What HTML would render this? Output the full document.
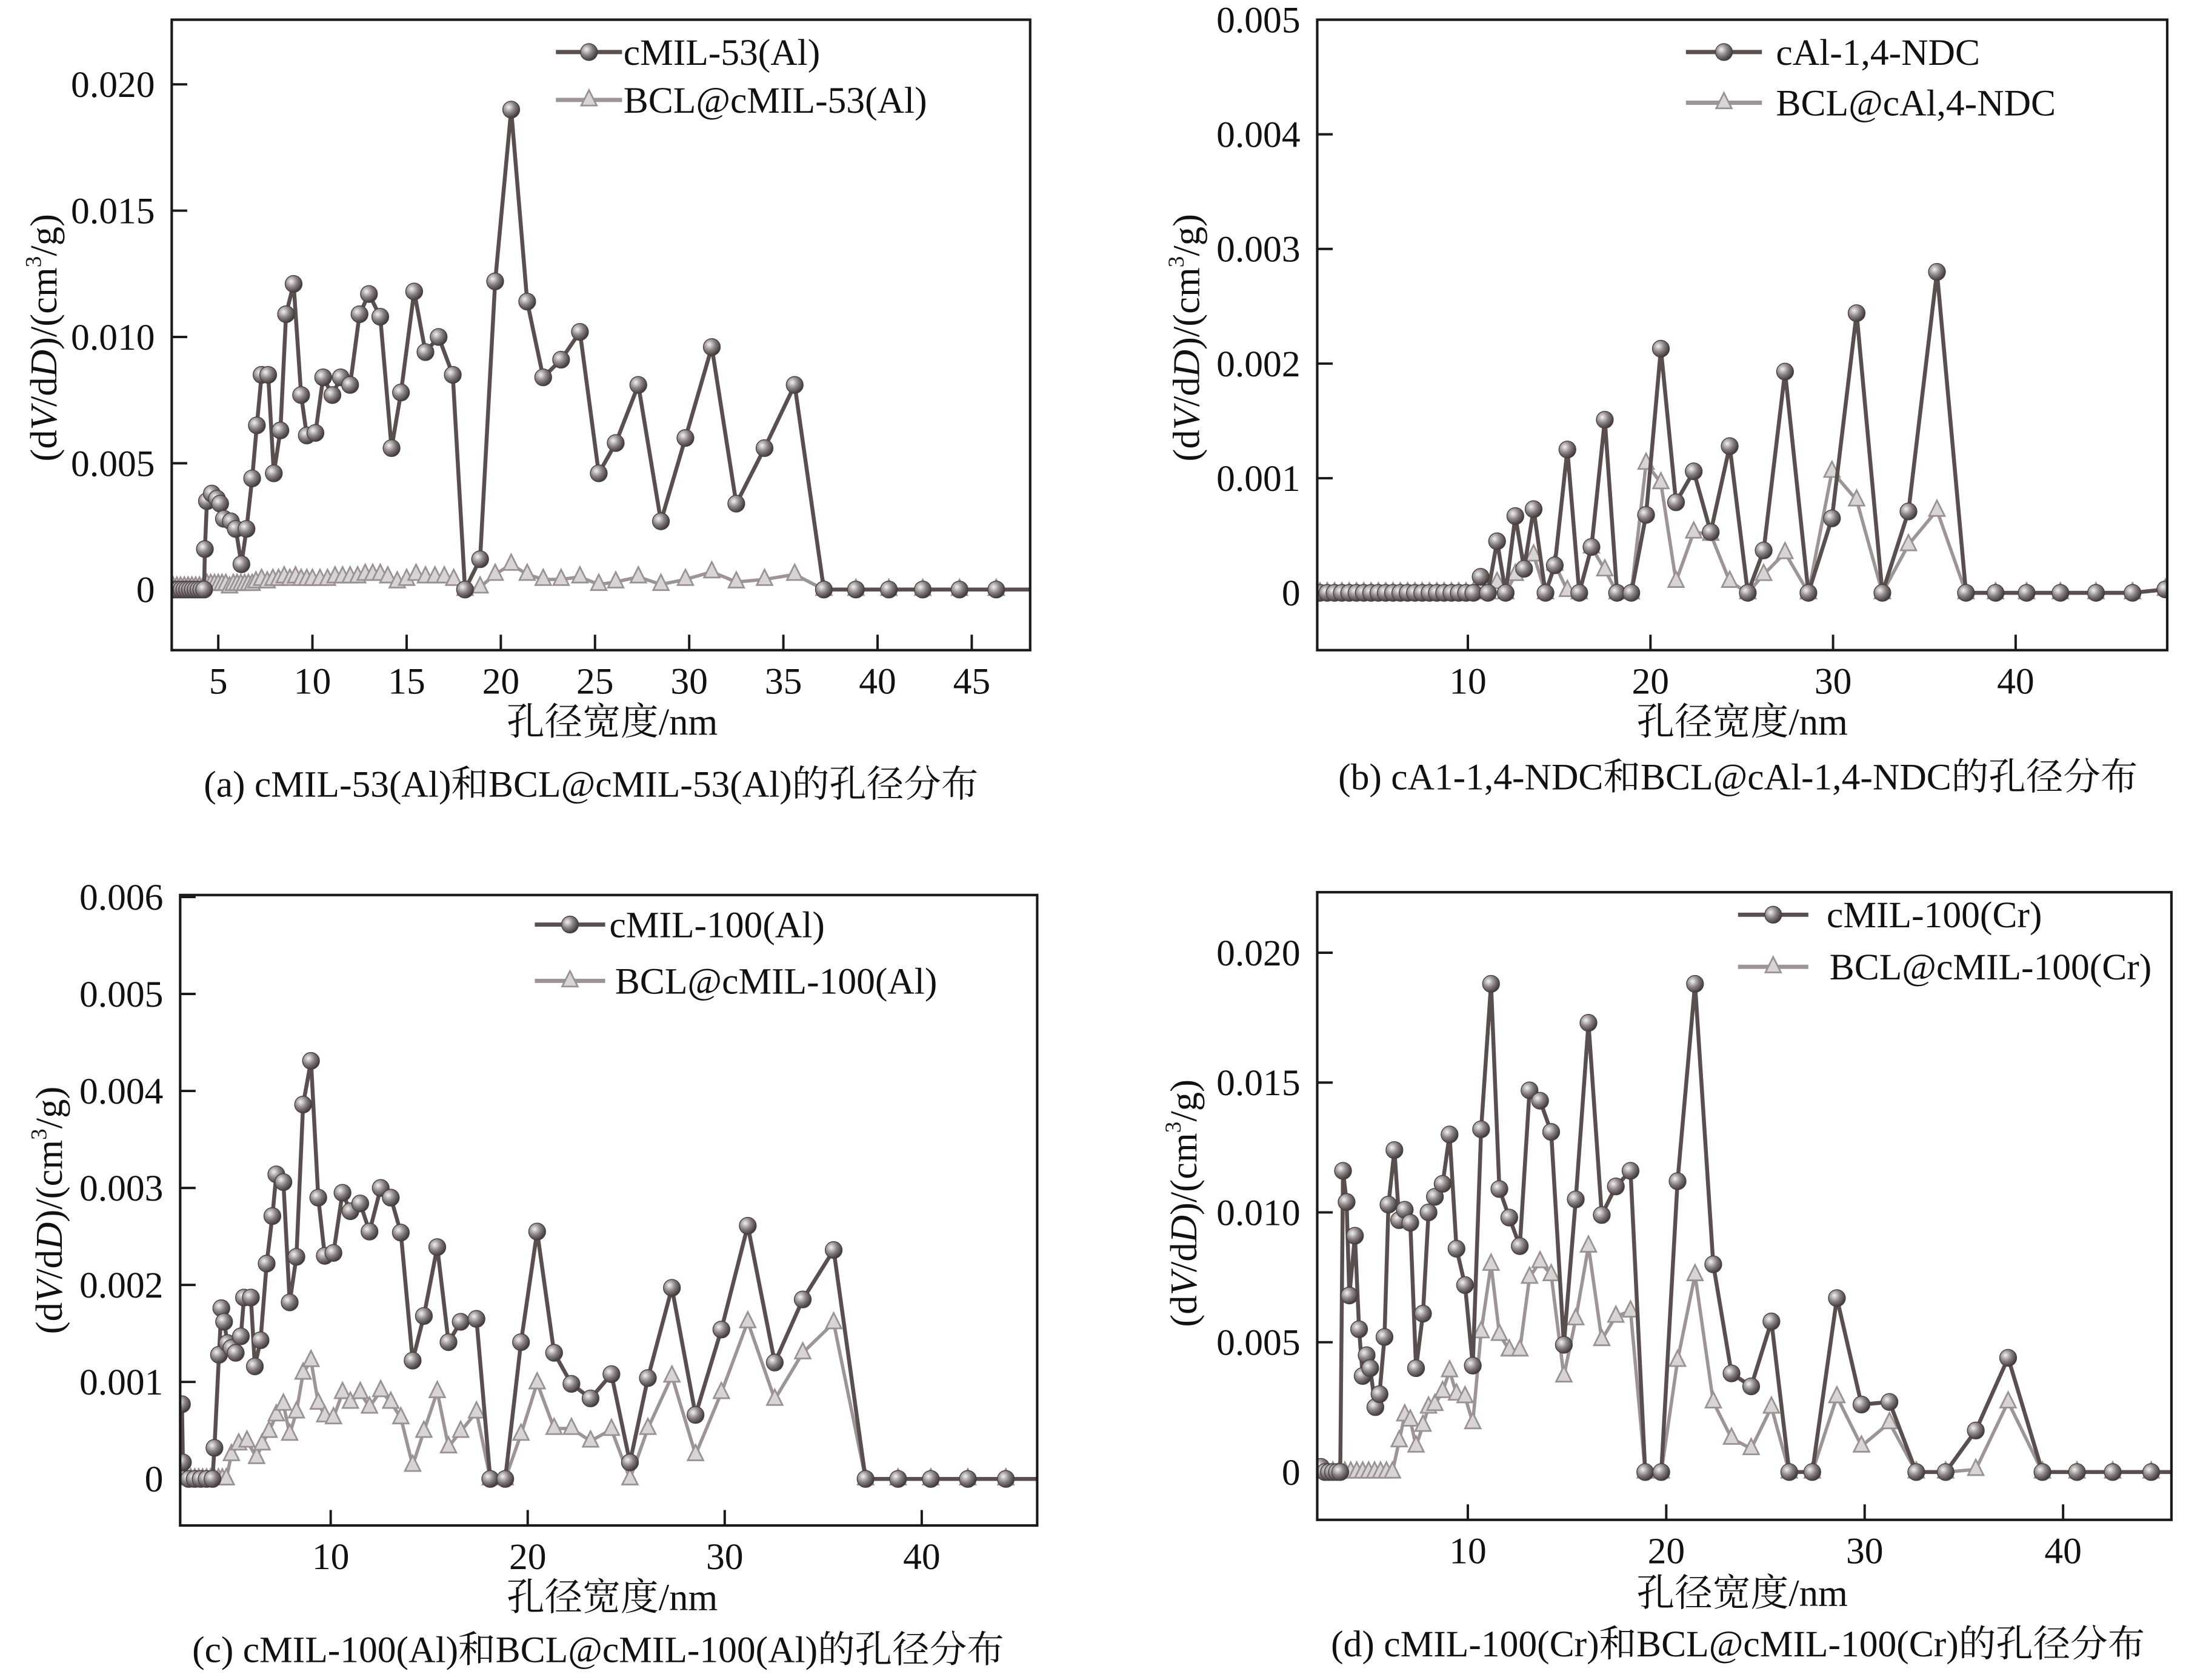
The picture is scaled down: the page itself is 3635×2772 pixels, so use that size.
<!DOCTYPE html>
<html><head><meta charset="utf-8">
<style>
html,body{margin:0;padding:0;background:#fff;}
svg{display:block;}
text{font-family:"Liberation Serif","Noto Serif CJK SC","Noto Sans CJK SC",serif;fill:#111;}
</style></head>
<body>
<svg id="fig" width="3635" height="2772" viewBox="0 0 1565.4 1193.8" xmlns="http://www.w3.org/2000/svg">
<defs>
<radialGradient id="ball" cx="35%" cy="35%" r="70%">
<stop offset="0" stop-color="#f2f2f2"/><stop offset="0.5" stop-color="#8a8282"/><stop offset="1" stop-color="#3a3333"/>
</radialGradient>
</defs>
</svg>
<script>
// ---------- Panel (a) data ----------
const aX1=[2.6,2.75,2.9,3.05,3.2,3.35,3.5,3.65,3.8,3.95,4.1,4.25,4.29,4.4,4.66,4.93,5.1,5.3,5.67,5.93,6.23,6.5,6.8,7.05,7.3,7.65,7.95,8.3,8.6,9.0,9.4,9.7,10.16,10.57,11.06,11.5,12.0,12.5,13.0,13.6,14.2,14.7,15.4,16.0,16.7,17.45,18.1,18.9,19.7,20.55,21.4,22.25,23.2,24.2,25.2,26.1,27.3,28.5,29.8,31.2,32.5,34.0,35.6,37.15,38.85,40.6,42.4,44.35,46.3];
const aY1=[0,0,0,0,0,0,0,0,0,0,0,0,0.0016,0.0035,0.0038,0.0036,0.0034,0.0028,0.0027,0.0024,0.0010,0.0024,0.0044,0.0065,0.0085,0.0085,0.0046,0.0063,0.0109,0.0121,0.0077,0.0061,0.0062,0.0084,0.0077,0.0084,0.0081,0.0109,0.0117,0.0108,0.0056,0.0078,0.0118,0.0094,0.0100,0.0085,0,0.0012,0.0122,0.0190,0.0114,0.0084,0.0091,0.0102,0.0046,0.0058,0.0081,0.0027,0.0060,0.0096,0.0034,0.0056,0.0081,0,0,0,0,0,0];
const aX2=[2.6,2.8,3.0,3.2,3.4,3.6,3.8,4.0,4.2,4.4,4.6,4.8,5.0,5.2,5.4,5.6,5.8,6.0,6.2,6.4,6.6,6.8,7.0,7.3,7.6,7.9,8.2,8.5,8.8,9.1,9.4,9.7,10.0,10.4,10.8,11.2,11.6,12.0,12.4,12.8,13.2,13.6,14.0,14.5,15.0,15.5,16.0,16.5,17.0,17.5,18.1,18.9,19.7,20.55,21.4,22.25,23.2,24.2,25.2,26.1,27.3,28.5,29.8,31.2,32.5,34.0,35.6,37.15,38.85,40.6,42.4,44.35,46.3];
const aY2=[0.0001,0.0001,0.0001,0.0001,0.0001,0.0001,0.0001,0.0001,0.0001,0.0002,0.0002,0.0002,0.0002,0.0002,0.0002,0.0001,0.0002,0.0002,0.0002,0.0002,0.0002,0.0002,0.0003,0.0004,0.0003,0.0004,0.0004,0.0005,0.0004,0.0005,0.0004,0.0004,0.0004,0.0004,0.0004,0.0005,0.0005,0.0005,0.0005,0.0006,0.0006,0.0006,0.0005,0.0003,0.0004,0.0006,0.0005,0.0005,0.0005,0.0004,0,0.0001,0.0006,0.0010,0.0006,0.0004,0.0004,0.0005,0.0002,0.0003,0.0005,0.0002,0.0004,0.0007,0.0003,0.0004,0.0006,0,0,0,0,0,0];
const aYTicks=[0,0.005,0.010,0.015,0.020];
const aYLabels=["0","0.005","0.010","0.015","0.020"];
const aXTicks=[5,10,15,20,25,30,35,40,45];

// ---------- Panel (b) data ----------
const bX1=[1.9,2.3,2.7,3.1,3.5,3.9,4.3,4.7,5.1,5.5,5.9,6.3,6.7,7.1,7.5,7.9,8.3,8.7,9.1,9.5,9.9,10.3,10.7,11.1,11.6,12.07,12.6,13.08,13.6,14.25,14.76,15.45,16.1,16.77,17.5,18.17,18.95,19.76,20.57,21.4,22.37,23.3,24.34,25.33,26.2,27.37,28.65,29.94,31.29,32.7,34.13,35.69,37.28,38.9,40.6,42.45,44.4,46.4,48.2];
const bY1=[0,0,0,0,0,0,0,0,0,0,0,0,0,0,0,0,0,0,0,0,0,0,0.00014,0,0.00045,0,0.00067,0.00021,0.00073,0,0.00024,0.00125,0,0.0004,0.00151,0,0,0.00068,0.00213,0.00079,0.00106,0.00053,0.00128,0,0.00037,0.00193,0,0.00065,0.00244,0,0.00071,0.0028,0,0,0,0,0,0,0.00003];
const bX2=[1.9,2.3,2.7,3.1,3.5,3.9,4.3,4.7,5.1,5.5,5.9,6.3,6.7,7.1,7.5,7.9,8.3,8.7,9.1,9.5,9.9,10.3,10.7,11.1,11.6,12.07,12.6,13.08,13.6,14.25,14.76,15.45,16.1,16.77,17.5,18.17,18.95,19.76,20.57,21.4,22.37,23.3,24.34,25.33,26.2,27.37,28.65,29.94,31.29,32.7,34.13,35.69,37.28,38.9,40.6,42.45,44.4,46.4,48.2];
const bY2=[0,0,0,0,0,0,0,0,0,0,0,0,0,0,0,0,0,0,0,0,0,0,0.00007,0,0.00009,0,0.00016,0.00024,0.00033,0,0.00025,0.00002,0,0.0004,0.0002,0,0,0.00113,0.00096,0.0001,0.00053,0.00051,0.0001,0,0.00016,0.00035,0,0.00106,0.00081,0,0.00042,0.00072,0,0,0,0,0,0,0.00003];
const bYTicks=[0,0.001,0.002,0.003,0.004,0.005];
const bYLabels=["0","0.001","0.002","0.003","0.004","0.005"];
const bXTicks=[10,20,30,40];

// ---------- Panel (c) data ----------
const cX1=[2.45,2.5,2.8,3.1,3.4,3.7,4.0,4.1,4.33,4.45,4.59,4.76,4.96,5.18,5.44,5.6,5.95,6.15,6.44,6.75,7.04,7.24,7.6,7.92,8.26,8.6,9.0,9.37,9.7,10.14,10.6,11.0,11.5,11.97,12.54,13.05,13.56,14.16,14.73,15.41,15.98,16.6,17.4,18.1,18.86,19.66,20.48,21.34,22.22,23.19,24.25,25.19,26.1,27.32,28.52,29.83,31.17,32.54,33.96,35.53,37.15,38.8,40.46,42.34,44.27];
const cY1=[0.00077,0.00017,0,0,0,0,0,0.00032,0.00128,0.00176,0.00162,0.0014,0.00135,0.0013,0.00147,0.00187,0.00187,0.00116,0.00143,0.00222,0.00271,0.00314,0.00306,0.00182,0.00229,0.00386,0.00431,0.0029,0.0023,0.00233,0.00295,0.00276,0.00284,0.00255,0.003,0.0029,0.00254,0.00122,0.00168,0.00239,0.00141,0.00162,0.00165,0,0,0.00141,0.00255,0.0013,0.00098,0.00083,0.00108,0.00017,0.00104,0.00197,0.00066,0.00154,0.00261,0.0012,0.00185,0.00236,0,0,0,0,0];
const cX2=[2.5,2.7,2.9,3.1,3.3,3.5,3.7,3.9,4.1,4.3,4.5,4.7,4.96,5.33,5.75,6.24,6.52,6.87,7.24,7.6,7.92,8.26,8.6,9.0,9.37,9.7,10.14,10.6,11.0,11.5,11.97,12.54,13.05,13.56,14.16,14.73,15.41,15.98,16.6,17.4,18.1,18.86,19.66,20.48,21.34,22.22,23.19,24.25,25.19,26.1,27.32,28.52,29.83,31.17,32.54,33.96,35.53,37.15,38.8,40.46,42.34,44.27];
const cY2=[0,0,0,0,0,0,0,0,0,0,0,0,0.00025,0.00036,0.00039,0.00022,0.00036,0.00049,0.00066,0.00077,0.00046,0.00069,0.00109,0.00122,0.00078,0.00065,0.00063,0.00089,0.00079,0.00089,0.00074,0.00091,0.00079,0.00063,0.00014,0.00049,0.0009,0.00033,0.00049,0.00069,0,0,0.00046,0.00099,0.00052,0.00052,0.00039,0.00051,0,0.00052,0.00106,0.00025,0.00089,0.00162,0.00082,0.0013,0.00161,0,0,0,0,0];
const cYTicks=[0,0.001,0.002,0.003,0.004,0.005,0.006];
const cYLabels=["0","0.001","0.002","0.003","0.004","0.005","0.006"];
const cXTicks=[10,20,30,40];

// ---------- Panel (d) data ----------
const dX1=[2.6,2.8,3.0,3.2,3.4,3.57,3.71,3.89,4.03,4.31,4.52,4.7,4.9,5.08,5.34,5.55,5.8,6.0,6.3,6.54,6.82,7.1,7.39,7.74,8.02,8.34,8.73,9.08,9.43,9.86,10.25,10.67,11.17,11.59,12.09,12.62,13.11,13.64,14.2,14.84,15.44,16.08,16.75,17.46,18.2,18.94,19.75,20.57,21.45,22.37,23.29,24.28,25.3,26.2,27.36,28.6,29.84,31.25,32.6,34.08,35.6,37.23,38.96,40.7,42.5,44.44];
const dY1=[0.0002,0,0,0,0,0,0.0116,0.0104,0.0068,0.0091,0.0055,0.0037,0.0045,0.004,0.0025,0.003,0.0052,0.0103,0.0124,0.0097,0.0101,0.0096,0.004,0.0061,0.01,0.0106,0.0111,0.013,0.0086,0.0072,0.0041,0.0132,0.0188,0.0109,0.0098,0.0087,0.0147,0.0143,0.0131,0.0049,0.0105,0.0173,0.0099,0.011,0.0116,0,0,0.0112,0.0188,0.008,0.0038,0.0033,0.0058,0,0,0.0067,0.0026,0.0027,0,0,0.0016,0.0044,0,0,0,0];
const dX2=[2.6,2.9,3.2,3.5,3.8,4.1,4.4,4.7,5.0,5.3,5.6,5.9,6.2,6.54,6.82,7.1,7.39,7.74,8.02,8.34,8.73,9.08,9.43,9.86,10.25,10.67,11.17,11.59,12.09,12.62,13.11,13.64,14.2,14.84,15.44,16.08,16.75,17.46,18.2,18.94,19.75,20.57,21.45,22.37,23.29,24.28,25.3,26.2,27.36,28.6,29.84,31.25,32.6,34.08,35.6,37.23,38.96,40.7,42.5,44.44];
const dY2=[0,0,0,0,0,0,0,0,0,0,0,0,0,0.0012,0.0022,0.002,0.001,0.0018,0.0025,0.0026,0.0031,0.0039,0.003,0.0029,0.0019,0.0054,0.008,0.0053,0.0047,0.0047,0.0075,0.0081,0.0076,0.0037,0.0059,0.0087,0.0051,0.006,0.0062,0,0,0.0043,0.0076,0.0027,0.0013,0.0009,0.0025,0,0,0.0029,0.001,0.0019,0,0,0.0001,0.0027,0,0,0,0];
const dYTicks=[0,0.005,0.010,0.015,0.020];
const dYLabels=["0","0.005","0.010","0.015","0.020"];
const dXTicks=[10,20,30,40];

const NS="http://www.w3.org/2000/svg";
const svg=document.getElementById('fig');
function mk(tag,attrs,parent){const e=document.createElementNS(NS,tag);for(const k in attrs)e.setAttribute(k,attrs[k]);(parent||svg).appendChild(e);return e;}

function panel(cfg){
  const g=mk('g',{});
  
  
  const sx=v=>cfg.L+(v-cfg.xmin)/(cfg.xmax-cfg.xmin)*(cfg.R-cfg.L);
  const sy=v=>cfg.B-(v-cfg.ymin)/(cfg.ymax-cfg.ymin)*(cfg.B-cfg.T);
  const cid='clip-'+cfg.id;
  const cp=mk('clipPath',{id:cid},g);
  mk('rect',{x:cfg.L,y:cfg.T,width:cfg.R-cfg.L,height:cfg.B-cfg.T},cp);
  cfg.yt.forEach((v,i)=>{
    const y=sy(v);
    const t=mk('line',{x1:cfg.L,x2:cfg.L+11,y1:y,y2:y,stroke:'#1a1a1a','stroke-width':1.7},g);
    
    
    const lb=mk('text',{x:cfg.L-12,y:y+9,'text-anchor':'end','font-size':26.5},g);
    lb.textContent=cfg.yl[i];
    
    
  });
  cfg.xt.forEach(v=>{
    const x=sx(v);
    const t=mk('line',{x1:x,x2:x,y1:cfg.B,y2:cfg.B-11,stroke:'#1a1a1a','stroke-width':1.7},g);
    
    
    const lb=mk('text',{x:x,y:cfg.B+31,'text-anchor':'middle','font-size':26.5},g);
    lb.textContent=String(v);
    
    
  });
  const series=[{x:cfg.x2,y:cfg.y2,c:'#9d9595',w:2.4,m:'tri',n:'bcl-series'},{x:cfg.x1,y:cfg.y1,c:'#5a4f4f',w:2.8,m:'ball',n:'pristine-series'}];
  series.forEach(s=>{
    const sg=mk('g',{'clip-path':'url(#'+cid+')'},g);
    
    
    const pts=s.x.map((xv,i)=>sx(xv).toFixed(2)+','+sy(s.y[i]).toFixed(2));
    let d='M'+pts.join('L');
    if(cfg.extend) d+='L'+cfg.R+','+sy(s.y[s.y.length-1]).toFixed(2);
    const p=mk('path',{d:d,fill:'none',stroke:s.c,'stroke-width':s.w,'stroke-linejoin':'round'},sg);
    
    
    s.x.forEach((xv,i)=>{
      const cx=sx(xv),cy=sy(s.y[i]);
      let m;
      if(s.m==='ball'){m=mk('circle',{cx:cx,cy:cy,r:6,fill:'url(#ball)',stroke:'#4a4040','stroke-width':0.6},sg);}
      else{m=mk('polygon',{points:(cx)+','+(cy-7)+' '+(cx-5.5)+','+(cy+4)+' '+(cx+5.5)+','+(cy+4),fill:'#d8d4d4',stroke:'#9a9292','stroke-width':1.2},sg);}
      
      
    });
  });
  const fr=mk('rect',{x:cfg.L,y:cfg.T,width:cfg.R-cfg.L,height:cfg.B-cfg.T,fill:'none',stroke:'#1a1a1a','stroke-width':1.8},g);
  
  
  const xt=mk('text',{x:cfg.xlx,y:cfg.xly,'text-anchor':'middle','font-size':27},g);
  xt.textContent='孔径宽度/nm';
  
  
  const yt=mk('text',{x:0,y:0,'text-anchor':'middle','font-size':27,transform:'translate('+cfg.ylx+','+cfg.yly+') rotate(-90)'},g);
  yt.innerHTML='(d<tspan font-style="italic">V</tspan>/d<tspan font-style="italic">D</tspan>)/(cm<tspan font-size="16" dy="-11">3</tspan><tspan dy="11">/g)</tspan>';
  
  
  const cap=mk('text',{x:cfg.capx,y:cfg.capy,'text-anchor':'middle','font-size':26.5},g);
  cap.textContent=cfg.cap;
  
  
  cfg.leg.forEach((l,i)=>{
    const lg=mk('g',{},g);
    
    
    const c=i===0?'#5a4f4f':'#9d9595';
    mk('line',{x1:l.x1,x2:l.x2,y1:l.y,y2:l.y,stroke:c,'stroke-width':3},lg);
    const mx=(l.x1+l.x2)/2;
    if(i===0) mk('circle',{cx:mx,cy:l.y,r:6,fill:'url(#ball)',stroke:'#4a4040','stroke-width':0.6},lg);
    else mk('polygon',{points:mx+','+(l.y-7)+' '+(mx-5.5)+','+(l.y+4)+' '+(mx+5.5)+','+(l.y+4),fill:'#d8d4d4',stroke:'#9a9292','stroke-width':1.2},lg);
    const t=mk('text',{x:l.tx,y:l.y+9,'font-size':26.5},lg);
    t.textContent=l.t;
  });
}

panel({id:'panel-a',L:122,R:732,T:14,B:462,xmin:2.53,xmax:48.1,ymin:-0.0024,ymax:0.02256,
  x1:aX1,y1:aY1,x2:aX2,y2:aY2,yt:aYTicks,yl:aYLabels,xt:aXTicks,extend:true,
  xlx:435,xly:522,ylx:40,yly:240,capx:420,capy:566,cap:'(a) cMIL-53(Al)和BCL@cMIL-53(Al)的孔径分布',
  leg:[{x1:395,x2:442,y:37,tx:443,t:'cMIL-53(Al)'},{x1:395,x2:442,y:71,tx:443,t:'BCL@cMIL-53(Al)'}]});
panel({id:'panel-b',L:936,R:1540,T:14,B:462,xmin:1.75,xmax:48.3,ymin:-0.0005,ymax:0.005,
  x1:bX1,y1:bY1,x2:bX2,y2:bY2,yt:bYTicks,yl:bYLabels,xt:bXTicks,extend:false,
  xlx:1238,xly:522,ylx:852,yly:240,capx:1235,capy:561,cap:'(b) cA1-1,4-NDC和BCL@cAl-1,4-NDC的孔径分布',
  leg:[{x1:1198,x2:1252,y:37,tx:1262,t:'cAl-1,4-NDC'},{x1:1198,x2:1252,y:73,tx:1262,t:'BCL@cAl,4-NDC'}]});
panel({id:'panel-c',L:128,R:737,T:636,B:1084,xmin:2.36,xmax:45.86,ymin:-0.00048,ymax:0.00602,
  x1:cX1,y1:cY1,x2:cX2,y2:cY2,yt:cYTicks,yl:cYLabels,xt:cXTicks,extend:true,
  xlx:435,xly:1144,ylx:44,yly:860,capx:425,capy:1181,cap:'(c) cMIL-100(Al)和BCL@cMIL-100(Al)的孔径分布',
  leg:[{x1:380,x2:430,y:657,tx:433,t:'cMIL-100(Al)'},{x1:380,x2:430,y:697,tx:437,t:'BCL@cMIL-100(Al)'}]});
panel({id:'panel-d',L:936,R:1543,T:634,B:1080,xmin:2.41,xmax:45.46,ymin:-0.00184,ymax:0.02233,
  x1:dX1,y1:dY1,x2:dX2,y2:dY2,yt:dYTicks,yl:dYLabels,xt:dXTicks,extend:true,
  xlx:1238,xly:1141,ylx:850,yly:855,capx:1235,capy:1177,cap:'(d) cMIL-100(Cr)和BCL@cMIL-100(Cr)的孔径分布',
  leg:[{x1:1235,x2:1285,y:650,tx:1298,t:'cMIL-100(Cr)'},{x1:1235,x2:1285,y:687,tx:1300,t:'BCL@cMIL-100(Cr)'}]});
</script>
</body></html>
